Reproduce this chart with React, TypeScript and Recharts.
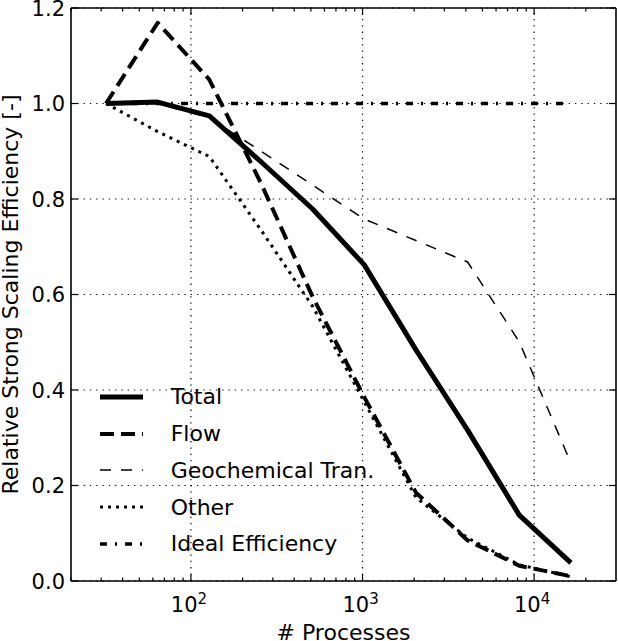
import { LineChart, Line, XAxis, YAxis, CartesianGrid, ReferenceLine, Legend } from "recharts"

const processes = [32, 64, 128, 256, 512, 1024, 2048, 4096, 8192, 16384]
const total = [1.0, 1.003, 0.974, 0.878, 0.779, 0.662, 0.484, 0.316, 0.138, 0.038]
const flow = [1.0, 1.169, 1.05, 0.833, 0.595, 0.385, 0.185, 0.085, 0.032, 0.01]
const geochem = [1.0, 1.0, 0.97, 0.9, 0.829, 0.758, 0.713, 0.668, 0.501, 0.247]
const other = [1.0, 0.941, 0.889, 0.735, 0.575, 0.375, 0.175, 0.09, 0.034, 0.009]
const ideal = [1.0, 1.0, 1.0, 1.0, 1.0, 1.0, 1.0, 1.0, 1.0, 1.0]

const majorX = [100, 1000, 10000]
const minorX = [20, 30, 40, 50, 60, 70, 80, 90, 200, 300, 400, 500, 600, 700, 800, 900,
  2000, 3000, 4000, 5000, 6000, 7000, 8000, 9000, 20000]
const yTicks = [0, 0.2, 0.4, 0.6, 0.8, 1.0, 1.2]

const data = processes.map((p, i) => ({
  p,
  total: total[i],
  flow: flow[i],
  geochem: geochem[i],
  other: other[i],
  ideal: ideal[i],
}))

const FONT = "'DejaVu Sans', sans-serif"
const W = 618
const H = 641
const PLOT_H = 573
const PLOT_W = 545
const GRID_DASH = "1.3 5"

const series = [
  { key: "total", name: "Total", width: 5, dash: undefined },
  { key: "flow", name: "Flow", width: 4, dash: "14 7" },
  { key: "geochem", name: "Geochemical Tran.", width: 1.5, dash: "11 10" },
  { key: "other", name: "Other", width: 3, dash: "3 5" },
  { key: "ideal", name: "Ideal Efficiency", width: 3.5, dash: "7 8 2 8" },
]

const XTick = (props: any) => {
  const { x, y, payload } = props
  const major = majorX.includes(payload.value)
  const len = major ? 7 : 3.5
  const exp = Math.round(Math.log10(payload.value))
  return (
    <g>
      <line x1={x} y1={y} x2={x} y2={y - len} stroke="#000" strokeWidth={1.2} />
      <line x1={x} y1={y - PLOT_H} x2={x} y2={y - PLOT_H + len} stroke="#000" strokeWidth={1.2} />
      {major && (
        <text x={x - 2} y={y + 31} textAnchor="middle" fontFamily={FONT} fontSize={21} fill="#000">
          10<tspan dy={-8.5} fontSize={15}>{exp}</tspan>
        </text>
      )}
    </g>
  )
}

const YTick = (props: any) => {
  const { x, y, payload } = props
  return (
    <g>
      <line x1={x} y1={y} x2={x + 7} y2={y} stroke="#000" strokeWidth={1.2} />
      <line x1={x + PLOT_W} y1={y} x2={x + PLOT_W - 7} y2={y} stroke="#000" strokeWidth={1.2} />
      <text x={x - 6} y={y} dy="0.36em" textAnchor="end" fontFamily={FONT} fontSize={21} fill="#000">
        {payload.value.toFixed(1)}
      </text>
    </g>
  )
}

const LegendBox = () => (
  <div style={{ fontFamily: FONT, fontSize: 22, color: "#000" }}>
    {series.map((s) => (
      <div key={s.key} style={{ display: "flex", alignItems: "center", height: 36.75 }}>
        <svg width={43} height={10} style={{ marginRight: 27.7 }}>
          <line x1={0} y1={5} x2={43} y2={5} stroke="#000" strokeWidth={s.width} strokeDasharray={s.dash} />
        </svg>
        <span>{s.name}</span>
      </div>
    ))}
  </div>
)

export default function App() {
  return (
    <div style={{ position: "absolute", left: 0, top: 0, width: W, height: H, background: "#fff" }}>
      <LineChart width={W} height={H} data={data} margin={{ top: 8, right: 2, bottom: 0, left: 0 }}>
        <CartesianGrid vertical={false} stroke="#000" strokeDasharray={GRID_DASH} strokeWidth={1.2} />
        {majorX.map((v) => (
          <ReferenceLine key={v} x={v} stroke="#000" strokeDasharray={GRID_DASH} strokeWidth={1.2} />
        ))}
        <ReferenceLine x={30000} stroke="#000" strokeWidth={1.6} />
        <ReferenceLine y={1.2} stroke="#000" strokeWidth={1.6} />
        <XAxis
          dataKey="p"
          type="number"
          scale="log"
          domain={[20, 30000]}
          allowDataOverflow
          ticks={[...minorX, ...majorX].sort((a, b) => a - b)}
          interval={0}
          tick={<XTick />}
          tickLine={false}
          tickSize={0}
          tickMargin={0}
          height={60}
          axisLine={{ stroke: "#000", strokeWidth: 1.6 }}
        />
        <YAxis
          type="number"
          domain={[0, 1.2]}
          ticks={yTicks}
          interval={0}
          tick={<YTick />}
          tickLine={false}
          tickSize={0}
          tickMargin={0}
          width={71}
          axisLine={{ stroke: "#000", strokeWidth: 1.6 }}
        />
        {series.map((s) => (
          <Line
            key={s.key}
            dataKey={s.key}
            name={s.name}
            type="linear"
            stroke="#000"
            strokeWidth={s.width}
            strokeDasharray={s.dash}
            strokeLinejoin="round"
            dot={false}
            activeDot={false}
            isAnimationActive={false}
          />
        ))}
        <Legend
          layout="vertical"
          align="center"
          verticalAlign="middle"
          content={<LegendBox />}
          wrapperStyle={{ left: 100, top: 378.6, width: 280 }}
        />
      </LineChart>
      <svg width={W} height={H} style={{ position: "absolute", left: 0, top: 0, pointerEvents: "none" }}>
        <text
          transform="translate(18, 294.5) rotate(-90)"
          textAnchor="middle"
          fontFamily={FONT}
          fontSize={22}
          fill="#000"
        >
          Relative Strong Scaling Efficiency [-]
        </text>
        <text x={343.5} y={640} textAnchor="middle" fontFamily={FONT} fontSize={22} fill="#000">
          # Processes
        </text>
      </svg>
    </div>
  )
}
